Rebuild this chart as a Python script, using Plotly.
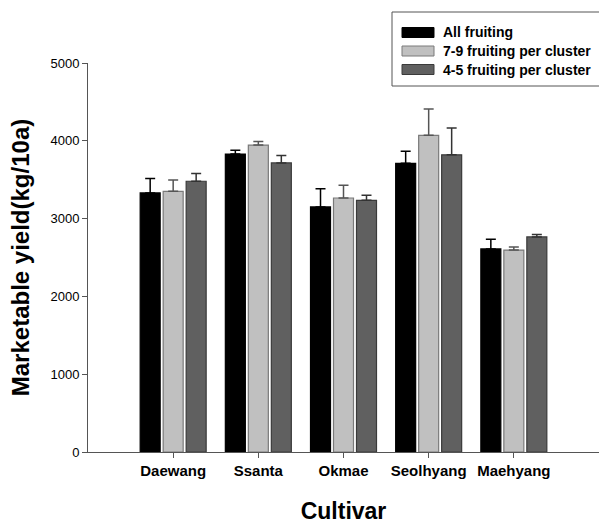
import plotly.graph_objects as go

cultivars = ["Daewang", "Ssanta", "Okmae", "Seolhyang", "Maehyang"]
series_names = ["All fruiting", "7-9 fruiting per cluster", "4-5 fruiting per cluster"]
all_fruiting = [3330, 3830, 3150, 3710, 2610]
all_fruiting_err = [185, 50, 235, 155, 125]
fruit_7_9 = [3350, 3945, 3265, 4070, 2595]
fruit_7_9_err = [145, 47, 165, 340, 40]
fruit_4_5 = [3480, 3715, 3235, 3820, 2765]
fruit_4_5_err = [100, 95, 65, 345, 30]
y_ticks = [0, 1000, 2000, 3000, 4000, 5000]

values = [all_fruiting, fruit_7_9, fruit_4_5]
errors = [all_fruiting_err, fruit_7_9_err, fruit_4_5_err]
fills = ["#000000", "#c0c0c0", "#606060"]
outlines = ["#000000", "#7a7a7a", "#3a3a3a"]
err_colors = ["#000000", "#555555", "#333333"]

FONT = "Arial, Liberation Sans, sans-serif"
W, H = 599, 524
L, R, T, B = 88, 0, 63, 72

fig = go.Figure()
xs = list(range(len(cultivars)))
for name, v, e, fc, oc, ec in zip(series_names, values, errors, fills, outlines, err_colors):
    fig.add_trace(go.Bar(
        x=xs, y=v, name=name,
        marker=dict(color=fc, line=dict(color=oc, width=1.2)),
        error_y=dict(type="data", array=e, symmetric=False, arrayminus=[0]*len(e),
                     color=ec, thickness=1.5, width=5, visible=True),
        showlegend=False,
    ))

# custom legend (paper coordinates derived from pixel layout)
pw = W - L - R
ph = H - T - B
def px(x):
    return (x - L) / pw
def py(y):
    return (H - B - y) / ph

shapes = [dict(type="rect", xref="paper", yref="paper",
               x0=px(392), x1=px(600), y0=py(86), y1=py(12),
               line=dict(color="#555555", width=1), fillcolor="white", layer="above")]
annotations = []
row_y = [32.5, 51, 69.5]
for name, fc, oc, ry in zip(series_names, fills, outlines, row_y):
    shapes.append(dict(type="rect", xref="paper", yref="paper",
                       x0=px(402), x1=px(434), y0=py(ry + 5), y1=py(ry - 5),
                       line=dict(color=oc, width=1), fillcolor=fc, layer="above"))
    annotations.append(dict(xref="paper", yref="paper", x=px(441), y=py(ry),
                            text="<b>" + name + "</b>", showarrow=False,
                            xanchor="left", yanchor="middle",
                            font=dict(family=FONT, size=14, color="black")))

fig.update_layout(
    width=W, height=H,
    margin=dict(l=L, r=R, t=T, b=B),
    paper_bgcolor="white", plot_bgcolor="white",
    barmode="group", bargap=0.19, bargroupgap=0.13,
    font=dict(family=FONT, color="black"),
    shapes=shapes, annotations=annotations,
    xaxis=dict(
        range=[-1, 5], tickmode="array", tickvals=xs,
        ticktext=["<b>" + c + "</b>" for c in cultivars],
        tickfont=dict(family=FONT, size=15, color="black"),
        showline=True, linecolor="#555555", linewidth=1,
        ticks="outside", ticklen=5, tickcolor="#555555",
        showgrid=False, zeroline=False,
        title=dict(text="<b>Cultivar</b>", font=dict(family=FONT, size=23, color="black"), standoff=27),
    ),
    yaxis=dict(
        range=[0, 5000], tickmode="array", tickvals=y_ticks,
        tickfont=dict(family=FONT, size=13, color="black"),
        showline=True, linecolor="#555555", linewidth=1,
        ticks="outside", ticklen=5, tickcolor="#555555",
        showgrid=False, zeroline=False,
        title=dict(text="<b>Marketable yield(kg/10a)</b>", font=dict(family=FONT, size=24, color="black"), standoff=14),
    ),
)

fig.write_html("out.html", config={"displayModeBar": False},
               post_script="document.body.style.margin='0px';")
